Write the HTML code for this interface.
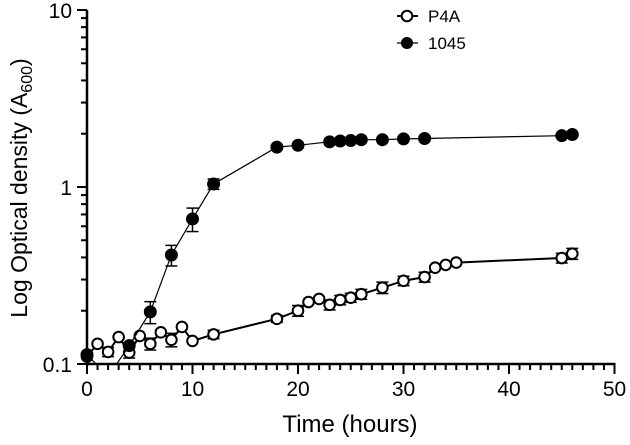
<!DOCTYPE html>
<html><head><meta charset="utf-8"><style>
body{margin:0;background:#fff;width:630px;height:440px;overflow:hidden}
text{font-family:"Liberation Sans",Arial,sans-serif;fill:#000}
</style></head><body>
<svg id="chart" width="630" height="440"></svg>
<script>
const xTicks=[0,10,20,30,40,50];
const yTicks=[0.1,1,10];
const yTickLabels=["0.1","1","10"];
const xP4A=[0,1,2,3,4,5,6,7,8,9,10,12,18,20,21,22,23,24,25,26,28,30,32,33,34,35,45,46];
const yP4A=[0.11,0.13,0.117,0.142,0.116,0.144,0.13,0.151,0.137,0.162,0.135,0.147,0.18,0.2,0.224,0.233,0.216,0.23,0.237,0.248,0.27,0.295,0.31,0.35,0.363,0.374,0.397,0.42];
const eP4A=[0,0,0.007,0,0.008,0,0.01,0,0.012,0,0,0.008,0.008,0.014,0,0,0.014,0.014,0.014,0.016,0.02,0.018,0.02,0,0,0,0.025,0.03];
const x1045=[0,2,4,6,8,10,12,18,20,23,24,25,26,28,30,32,45,46];
const y1045=[0.113,0.085,0.127,0.197,0.413,0.66,1.04,1.68,1.72,1.8,1.82,1.83,1.85,1.85,1.87,1.88,1.95,1.98];
const e1045=[0,0,0,0.028,0.055,0.1,0.07,0,0,0,0,0,0,0,0,0,0,0];
const NS="http://www.w3.org/2000/svg";
const svg=document.getElementById('chart');
const X0=87,XS=10.55,Y1=187,DEC=177;
function sx(v){return X0+v*XS;}
function sy(v){return Y1-Math.log10(v)*DEC;}
function el(t,a,p){const e=document.createElementNS(NS,t);for(const k in a)e.setAttribute(k,a[k]);(p||svg).appendChild(e);return e;}
const defs=el('defs',{});const cp=el('clipPath',{id:'cp'},defs);el('rect',{x:X0-12,y:0,width:560,height:sy(0.1)+1},cp);
const ax=el('g',{});


el('line',{x1:X0,y1:sy(10),x2:X0,y2:sy(0.1)+1,stroke:'#000','stroke-width':2.5},ax);
el('line',{x1:X0-1,y1:sy(0.1),x2:sx(50)+1,y2:sy(0.1),stroke:'#000','stroke-width':2.5},ax);
for(let i=0;i<=50;i++){const big=i%10===0;el('line',{x1:sx(i),y1:sy(0.1),x2:sx(i),y2:sy(0.1)+(big?10:6),stroke:'#000','stroke-width':2},ax);}
xTicks.forEach(v=>{const t=el('text',{x:sx(v),y:396,'text-anchor':'middle','font-size':21},ax);t.textContent=v;
});
for(let d=-1;d<1;d++){for(let m=1;m<=9;m++){const v=m*Math.pow(10,d);el('line',{x1:X0,y1:sy(v),x2:X0-(m===1?10:6),y2:sy(v),stroke:'#000','stroke-width':2},ax);}}
el('line',{x1:X0,y1:sy(10),x2:X0-10,y2:sy(10),stroke:'#000','stroke-width':2},ax);
yTicks.forEach((v,i)=>{const t=el('text',{x:X0-15,y:sy(v)+8,'text-anchor':'end','font-size':21},ax);t.textContent=yTickLabels[i];
});
const xl=el('text',{x:350,y:432,'text-anchor':'middle','font-size':24});xl.textContent='Time (hours)';

const yl=el('text',{x:0,y:0,'text-anchor':'middle','font-size':23,transform:'translate(27,188) rotate(-90)'});
yl.innerHTML='Log Optical density (A<tspan font-size="16" dy="5">600</tspan><tspan dy="-5">)</tspan>';

function series(xs,ys,es,filled,name,lw){
 const g=el('g',{'clip-path':'url(#cp)'});
 
 el('polyline',{points:xs.map((x,i)=>sx(x)+','+sy(ys[i])).join(' '),fill:'none',stroke:'#000','stroke-width':lw},g);
 xs.forEach((x,i)=>{if(es[i]>0){const a=sy(ys[i]+es[i]),b=sy(ys[i]-es[i]),c=sx(x);
  el('line',{x1:c,y1:a,x2:c,y2:b,stroke:'#000','stroke-width':1.5},g);
  el('line',{x1:c-6,y1:a,x2:c+6,y2:a,stroke:'#000','stroke-width':1.5},g);
  el('line',{x1:c-6,y1:b,x2:c+6,y2:b,stroke:'#000','stroke-width':1.5},g);}});
 xs.forEach((x,i)=>{const c=el('circle',{cx:sx(x),cy:sy(ys[i]),r:filled?6:5.3,fill:filled?'#000':'#fff',stroke:'#000','stroke-width':filled?1:2},g);
  });
}
series(xP4A,yP4A,eP4A,false,'series-p4a',2);
series(x1045,y1045,e1045,true,'series-1045',1.2);
const lg=el('g',{});

el('line',{x1:397,y1:16,x2:418,y2:16,stroke:'#000','stroke-width':2},lg);
el('circle',{cx:407,cy:16,r:5.3,fill:'#fff',stroke:'#000','stroke-width':2},lg);
let t=el('text',{x:428,y:22,'font-size':17},lg);t.textContent='P4A';
el('line',{x1:397,y1:43,x2:418,y2:43,stroke:'#000','stroke-width':1.2},lg);
el('circle',{cx:407,cy:43,r:6,fill:'#000'},lg);
t=el('text',{x:428,y:49,'font-size':17},lg);t.textContent='1045';
</script>
</body></html>
